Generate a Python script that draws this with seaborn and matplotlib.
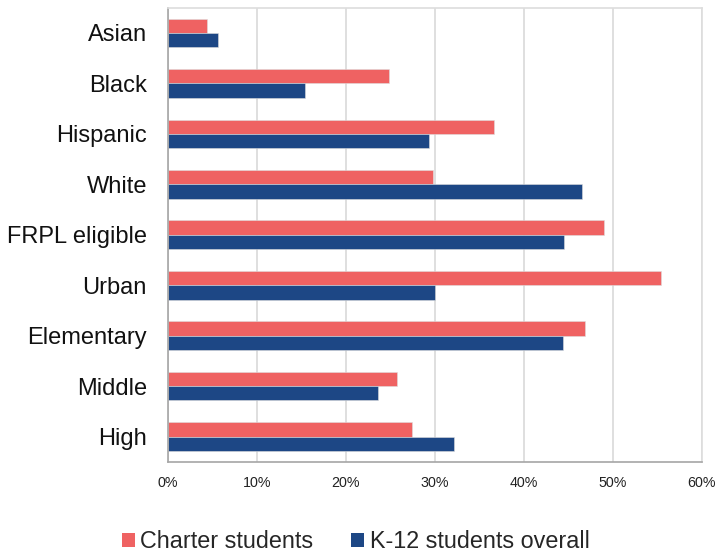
import matplotlib
matplotlib.use("Agg")
import matplotlib.pyplot as plt
from matplotlib.patches import Patch
from matplotlib.ticker import PercentFormatter, MultipleLocator
import pandas as pd
import seaborn as sns

# values (percent of students)
groups = ["Asian", "Black", "Hispanic", "White", "FRPL eligible",
          "Urban", "Elementary", "Middle", "High"]
charter = [4.4, 24.8, 36.6, 29.8, 49.0, 55.4, 46.9, 25.7, 27.4]
k12 = [5.6, 15.4, 29.3, 46.5, 44.5, 30.0, 44.4, 23.6, 32.1]
series = ["Charter students", "K-12 students overall"]
colors = ["#EF6262", "#1D4785"]

df = pd.DataFrame({
    "group": groups * 2,
    "value": charter + k12,
    "series": [series[0]] * len(groups) + [series[1]] * len(groups),
})

sns.set_theme(style="white")
plt.rcParams["font.family"] = ["Liberation Sans", "DejaVu Sans"]

fig = plt.figure(figsize=(7.17, 5.55), dpi=100)
ax = fig.add_axes([0.234, 0.168, 0.745, 0.818])

sns.barplot(data=df, y="group", x="value", hue="series", order=groups,
            hue_order=series, palette=colors, orient="h", width=0.57,
            saturation=1, legend=False, ax=ax,
            edgecolor="#DDDDDD", linewidth=0.4)

ax.set_xlim(0, 60)
ax.xaxis.set_major_locator(MultipleLocator(10))
ax.xaxis.set_major_formatter(PercentFormatter(xmax=100, decimals=0))
ax.grid(axis="x", color="#D9D9D9", linewidth=1.2)
ax.set_axisbelow(True)
ax.set_xlabel("")
ax.set_ylabel("")

for side in ["top", "right"]:
    ax.spines[side].set_color("#DDDDDD")
for side in ["left", "bottom"]:
    ax.spines[side].set_color("#A6A6A6")
for sp in ax.spines.values():
    sp.set_linewidth(1.2)

ax.tick_params(axis="y", length=0, pad=15, labelsize=17, labelcolor="#111111")
ax.tick_params(axis="x", length=0, pad=10, labelsize=10.3, labelcolor="#222222")

handles = [Patch(facecolor=c, edgecolor="none") for c in colors]
fig.legend(handles, series, loc="center", bbox_to_anchor=(0.496, 0.024),
           ncol=2, frameon=False, fontsize=16.8, handlelength=0.58,
           handleheight=0.58, handletextpad=0.22, columnspacing=1.6,
           borderpad=0)

fig.savefig("out.png", dpi=100)
